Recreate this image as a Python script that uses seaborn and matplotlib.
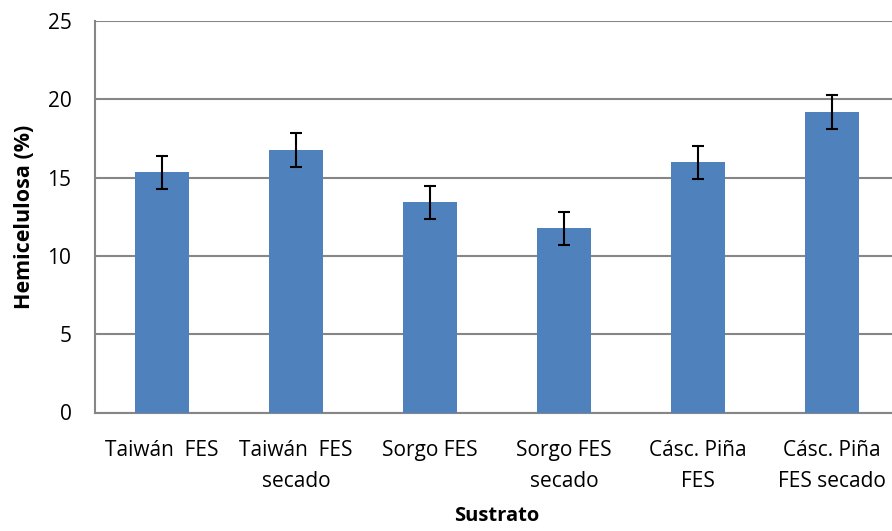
import matplotlib
matplotlib.use("Agg")
import matplotlib.pyplot as plt
import seaborn as sns
import pandas as pd

categories = ["Taiwán  FES", "Taiwán  FES\nsecado", "Sorgo FES", "Sorgo FES\nsecado",
              "Cásc. Piña\nFES", "Cásc. Piña\nFES secado"]
values = [15.35, 16.75, 13.43, 11.76, 15.98, 19.18]
errors = [1.05, 1.07, 1.06, 1.06, 1.05, 1.07]

df = pd.DataFrame({"Sustrato": categories, "Hemicelulosa": values})

sns.set_style("white")
plt.rcParams["font.family"] = ["Open Sans", "DejaVu Sans"]

fig = plt.figure(figsize=(8.92, 5.31), dpi=100)
ax = fig.add_axes([95 / 892, 1 - 412.5 / 531, 804 / 892, 391.5 / 531])

sns.barplot(data=df, x="Sustrato", y="Hemicelulosa", color="#4F81BD",
            saturation=1, width=0.4, ax=ax, errorbar=None, zorder=3, linewidth=0)
ax.errorbar(range(len(values)), values, yerr=errors, fmt="none", ecolor="black",
            elinewidth=1.5, capsize=4.5, capthick=1.5, zorder=4)

ax.set_ylim(0, 25)
ax.set_xlim(-0.5, len(categories) - 0.5)
ax.set_yticks([0, 5, 10, 15, 20, 25])
ax.yaxis.grid(True, color="#868686", linewidth=1.5, zorder=0)
ax.set_axisbelow(True)
for s in ["top", "right"]:
    ax.spines[s].set_visible(False)
for s in ["left", "bottom"]:
    ax.spines[s].set_color("#868686")
    ax.spines[s].set_linewidth(1.5)
ax.tick_params(axis="y", which="major", length=6, width=1.5, color="#868686",
               direction="out", labelsize=15, pad=11, labelcolor="black")
ax.tick_params(axis="x", length=0, labelsize=15, pad=20, labelcolor="black")
ax.set_ylabel("Hemicelulosa (%)", fontsize=15.5, fontweight="bold", labelpad=9,
              color="black")
ax.set_xlabel("Sustrato", fontsize=14.5, fontweight="bold", labelpad=10,
              color="black")
for lbl in ax.get_xticklabels():
    lbl.set_linespacing(1.6)

fig.savefig("out.png", dpi=100)
